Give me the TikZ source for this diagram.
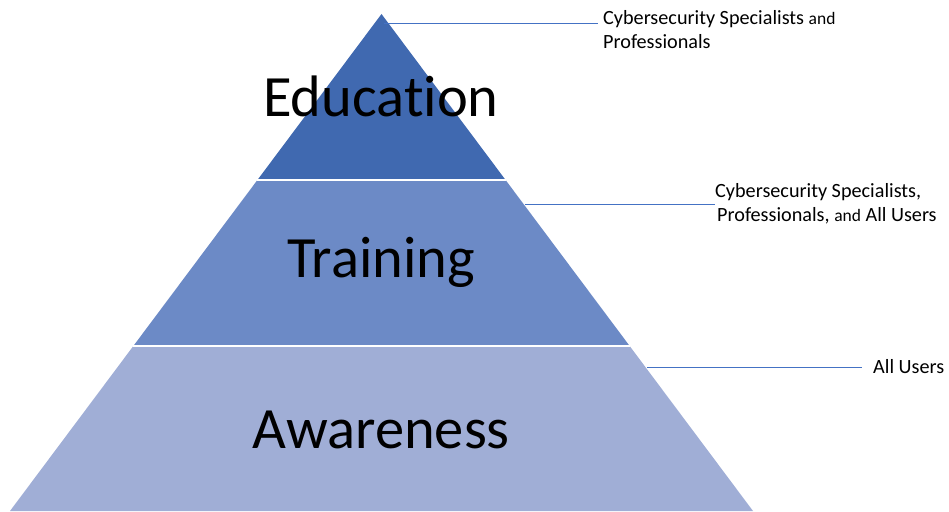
\documentclass[tikz,border=0pt]{standalone}
\usepackage{fontspec}
\setmainfont{Carlito}[Ligatures=NoCommon]
\usetikzlibrary{calc}
\definecolor{edu}{HTML}{4069B0}
\definecolor{trn}{HTML}{6C8AC6}
\definecolor{awr}{HTML}{A0AED6}
\definecolor{lead}{HTML}{4472C4}
\tikzset{
  biglabel/.style={font=\fontsize{58.5}{60}\selectfont, inner sep=0pt},
  sidelabel/.style={font=\fontsize{20.2}{24}\selectfont, align=left, anchor=west, inner sep=0pt},
  leader/.style={draw=lead, line width=1pt},
  sep/.style={draw=white, line width=2pt}
}
\newcommand{\smalland}{{\fontsize{17.5}{20}\selectfont and}}
\begin{document}
\begin{tikzpicture}[x=1pt,y=-1pt]
\useasboundingbox (0,0) rectangle (949,511);
\coordinate (apex) at (381.5,14);
\coordinate (bl) at (10,511);
\coordinate (br) at (753,511);
\coordinate (l1) at ($(apex)!0.33400!(bl)$);
\coordinate (r1) at ($(apex)!0.33400!(br)$);
\coordinate (l2) at ($(apex)!0.66801!(bl)$);
\coordinate (r2) at ($(apex)!0.66801!(br)$);
\fill[awr] (l2) -- (r2) -- (br) -- (bl) -- cycle;
\fill[trn] (l1) -- (r1) -- (r2) -- (l2) -- cycle;
\fill[edu] (apex) -- (r1) -- (l1) -- cycle;
\draw[sep] (l1) -- (r1);
\draw[sep] (l2) -- (r2);
\node[biglabel] (education) at (381,96) {Education};
\node[biglabel] (training) at (381,262) {Training};
\node[biglabel] (awareness) at (381,430) {Awareness};
\node[sidelabel] (t1) at (603,30) {Cybersecurity Specialists \smalland\\Professionals};
\node[sidelabel] (t2) at (715,204) {Cybersecurity Specialists,\\\hspace{2pt}Professionals, \smalland{} All Users};
\node[sidelabel] (t3) at (873,367) {All Users};
\coordinate (c1) at (384,24);
\coordinate (c2) at (525,204);
\coordinate (c3) at (647,367);
\draw[leader] (c1) -- ([xshift=-5pt]c1 -| t1.west);
\draw[leader] (c2) -- (c2 -| t2.west);
\draw[leader] (c3) -- ([xshift=-11pt]c3 -| t3.west);
\end{tikzpicture}
\end{document}
